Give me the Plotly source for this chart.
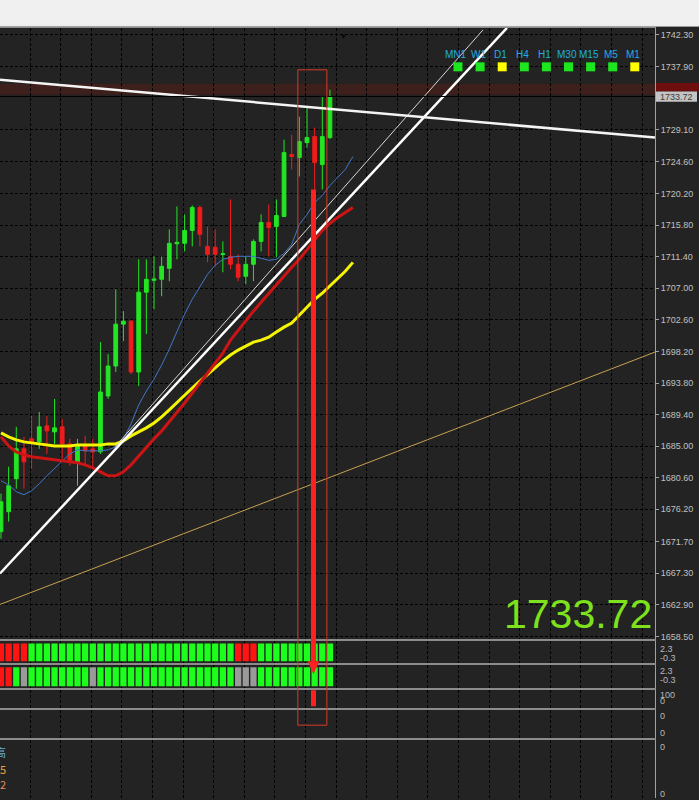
import plotly.graph_objects as go

W, H = 699, 800
AXIS_PX = 655  # left edge of the price scale, in pixels

# ---- candles (bar index 0..43) ----
opens = [1673.09, 1675.87, 1680.46, 1684.63, 1686.02, 1685.60, 1687.83, 1686.99, 1687.69, 1685.32,
         1682.82, 1685.05, 1684.63, 1684.21, 1691.99, 1696.17, 1702.00, 1702.42, 1695.33, 1706.45,
         1708.10, 1708.25, 1709.78, 1713.20, 1713.26, 1715.06, 1718.26, 1712.84, 1712.70, 1711.70,
         1711.45, 1710.34, 1708.67, 1710.34, 1713.53, 1716.17, 1715.62, 1717.01, 1725.62, 1725.21,
         1727.29, 1728.13, 1724.23, 1727.99]
highs = [1678.40, 1682.13, 1687.69, 1686.30, 1689.21, 1689.77, 1689.21, 1691.58, 1688.80, 1686.02,
         1686.02, 1686.44, 1686.02, 1699.50, 1697.83, 1706.86, 1703.81, 1702.60, 1711.03, 1711.03,
         1711.45, 1711.45, 1715.20, 1718.40, 1717.29, 1718.54, 1718.54, 1715.62, 1715.20, 1713.53,
         1719.37, 1711.73, 1711.45, 1713.81, 1717.29, 1718.68, 1719.37, 1727.71, 1728.40, 1730.90,
         1732.16, 1729.38, 1733.68, 1734.66]
lows = [1672.10, 1674.48, 1679.07, 1679.07, 1681.85, 1684.63, 1683.93, 1685.32, 1683.24, 1682.27,
        1679.49, 1682.27, 1681.85, 1683.93, 1691.58, 1695.33, 1699.64, 1695.05, 1693.38, 1700.61,
        1704.08, 1705.89, 1707.98, 1711.03, 1712.14, 1712.84, 1712.84, 1710.62, 1710.06, 1709.23,
        1709.64, 1707.98, 1707.56, 1707.98, 1712.14, 1711.45, 1711.31, 1716.90, 1723.54, 1722.57,
        1726.60, 1720.76, 1720.76, 1727.80]
closes = [1677.26, 1679.49, 1684.63, 1682.82, 1685.60, 1687.69, 1687.13, 1687.55, 1685.32, 1682.82,
          1685.05, 1684.35, 1684.21, 1692.55, 1696.17, 1702.00, 1702.42, 1695.33, 1706.45, 1708.25,
          1708.30, 1710.06, 1713.26, 1713.40, 1715.06, 1718.26, 1714.51, 1711.73, 1711.73, 1711.80,
          1710.34, 1708.53, 1710.34, 1713.53, 1716.17, 1715.48, 1717.15, 1725.90, 1725.35, 1727.43,
          1727.99, 1724.51, 1728.13, 1733.72]

# moving averages (shifted 3 bars forward, index 0..46)
ma_yellow = [1686.85, 1686.30, 1685.88, 1685.60, 1685.46, 1685.32, 1685.18, 1685.04, 1685.04, 1685.04,
             1685.18, 1685.18, 1685.18, 1685.18, 1685.32, 1685.32, 1685.74, 1686.43, 1686.99, 1687.55,
             1688.24, 1689.07, 1690.05, 1691.02, 1692.13, 1693.10, 1694.08, 1695.05, 1696.02, 1696.86,
             1697.69, 1698.39, 1698.94, 1699.50, 1699.77, 1700.19, 1700.89, 1701.58, 1702.14, 1703.25,
             1704.36, 1705.47, 1706.31, 1707.28, 1708.25, 1709.36, 1710.61]
ma_red = [1686.30, 1685.04, 1684.21, 1683.79, 1683.52, 1683.38, 1683.24, 1683.10, 1682.96, 1682.82,
          1682.68, 1682.40, 1681.99, 1681.43, 1680.88, 1680.88, 1681.43, 1682.40, 1683.65, 1684.91,
          1686.02, 1687.13, 1688.38, 1689.63, 1691.02, 1692.41, 1693.80, 1695.19, 1696.58, 1697.97,
          1699.77, 1701.16, 1702.55, 1703.81, 1705.06, 1706.31, 1707.56, 1708.67, 1709.92, 1711.03,
          1712.42, 1713.81, 1715.06, 1716.03, 1716.87, 1717.56, 1718.26]
ma_blue = [1680.18, 1679.62, 1678.65, 1678.24, 1678.79, 1679.76, 1680.88, 1681.85, 1682.96, 1683.93,
           1684.49, 1684.35, 1684.35, 1684.35, 1684.49, 1684.91, 1686.02, 1688.10, 1690.74, 1692.69,
           1694.36, 1696.30, 1698.52, 1700.89, 1703.39, 1705.47, 1707.28, 1708.95, 1710.20, 1711.03,
           1711.31, 1711.45, 1711.45, 1711.45, 1711.17, 1710.89, 1711.03, 1711.87, 1713.12, 1715.90,
           1717.29, 1718.95, 1719.93, 1721.32, 1722.43, 1723.54, 1725.35]

# trendlines: (bar indexes, prices)
tl_down_x, tl_down_y = [-0.13, 85.49], [1736.05, 1727.99]
tl_up_x, tl_up_y = [-0.13, 66.14], [1667.26, 1743.27]
tl_thin_x, tl_thin_y = [14.9, 63.0], [1684.91, 1742.99]
tl_orange_x, tl_orange_y = [-0.13, 85.49], [1662.95, 1698.11]

price_ticks = [1742.30, 1737.90, 1729.10, 1724.60, 1720.20, 1715.80, 1711.40, 1707.00, 1702.60,
               1698.20, 1693.80, 1689.40, 1685.00, 1680.60, 1676.20, 1671.70, 1667.30, 1662.90, 1658.50]
last_price = 1733.72
zone_lo, zone_hi = 1733.96, 1735.49

# indicator strips: g = green, r = red, x = grey
strip1 = "rrrr" + "g" * 27 + "rrr" + "g" * 10
strip2 = "rrgx" + "g" * 8 + "x" + "g" * 18 + "xxx" + "g" * 10

timeframes = ["MN1", "W1", "D1", "H4", "H1", "M30", "M15", "M5", "M1"]
tf_state = ["g", "g", "y", "g", "g", "g", "g", "g", "y"]

# ---- styling ----
BG = "#232323"
GRID = dict(showgrid=True, gridcolor="#000000", griddash="3px,2px", gridwidth=1)
FRAME = "#8c8c8c"
STRIP_COL = {"g": "#1cff1c", "r": "#ff1414", "x": "#9a9a9a"}
TF_COL = {"g": "#1ee61e", "y": "#ffff00"}
X_RANGE = [-0.13, 85.49]


def py(px):
    return 1 - px / H


def px_x(px):
    return px / W


fig = go.Figure()

fig.add_trace(go.Candlestick(
    x=list(range(len(opens))), open=opens, high=highs, low=lows, close=closes,
    increasing=dict(line=dict(color="#22e622", width=1), fillcolor="#22e622"),
    decreasing=dict(line=dict(color="#f01c1c", width=1), fillcolor="#f01c1c"),
    showlegend=False, hoverinfo="skip",
))

for vals, col, w in [(ma_blue, "#3f78c8", 1), (ma_yellow, "#f5f500", 3), (ma_red, "#cc1414", 3)]:
    fig.add_trace(go.Scatter(x=list(range(len(vals))), y=vals, mode="lines",
                             line=dict(color=col, width=w), showlegend=False, hoverinfo="skip"))

fig.add_trace(go.Scatter(x=tl_orange_x, y=tl_orange_y, mode="lines",
                         line=dict(color="#c8a050", width=1), showlegend=False, hoverinfo="skip"))
fig.add_trace(go.Scatter(x=tl_thin_x, y=tl_thin_y, mode="lines",
                         line=dict(color="#d8d8d8", width=1), showlegend=False, hoverinfo="skip"))
fig.add_trace(go.Scatter(x=tl_up_x, y=tl_up_y, mode="lines",
                         line=dict(color="#ffffff", width=2.5), showlegend=False, hoverinfo="skip"))
fig.add_trace(go.Scatter(x=tl_down_x, y=tl_down_y, mode="lines",
                         line=dict(color="#f4f4f4", width=2.5), showlegend=False, hoverinfo="skip"))

# strips in sub panes 1 and 2
for k, strip in [(2, strip1), (3, strip2)]:
    fig.add_trace(go.Bar(x=list(range(len(strip))), y=[1] * len(strip), width=0.82,
                         marker=dict(color=[STRIP_COL[s] for s in strip], line=dict(width=0)),
                         xaxis=f"x{k}", yaxis=f"y{k}", showlegend=False, hoverinfo="skip"))
# empty panes still need a trace so their frame and grid get drawn
for k in (4, 5, 6):
    fig.add_trace(go.Scatter(x=[None], y=[None], mode="lines", xaxis=f"x{k}", yaxis=f"y{k}",
                             showlegend=False, hoverinfo="skip"))

# pane layout in pixels (top, bottom)
panes = [(28, 641), (643, 665), (667, 690), (692, 710), (712, 740), (742, 800)]

layout = dict(
    width=W, height=H, margin=dict(l=0, r=0, t=0, b=0),
    paper_bgcolor=BG, plot_bgcolor=BG, showlegend=False,
    font=dict(family="Liberation Sans", size=9, color="#c0c0c0"),
)
for n, (top, bot) in enumerate(panes, start=1):
    sx = "" if n == 1 else str(n)
    xa = dict(domain=[0, px_x(AXIS_PX)], range=X_RANGE, anchor=f"y{sx}",
              tickmode="linear", tick0=3.8, dtick=4, showticklabels=False, ticks="",
              showline=True, linecolor=FRAME, linewidth=2, mirror=(n < 6),
              zeroline=False, **GRID)
    if n == 1:
        xa["rangeslider"] = dict(visible=False)
    else:
        xa["matches"] = "x"
    if n == 6:
        xa["side"] = "top"
    ya = dict(domain=[py(bot), py(top)], anchor=f"x{sx}", side="right", zeroline=False,
              showline=True, linecolor="#a0a0a0", linewidth=1, fixedrange=True)
    if n == 1:
        ya.update(range=[1658.08, 1743.27], tickmode="array", tickvals=price_ticks,
                  ticktext=[f"{v:.2f}" for v in price_ticks], ticks="outside", ticklen=3,
                  tickcolor="#a0a0a0", tickfont=dict(size=9, color="#c0c0c0"), **GRID)
    else:
        pad = 2 / (bot - top - 4)
        ya.update(range=[-pad, 1 + pad], showticklabels=False, showgrid=False, ticks="")
    layout[f"xaxis{sx}"] = xa
    layout[f"yaxis{sx}"] = ya

fig.update_layout(**layout)

shapes = []
# top light band of the terminal window
shapes.append(dict(type="rect", xref="paper", yref="paper", x0=0, x1=1, y0=py(26), y1=1,
                   fillcolor="#f0f0f0", line=dict(width=0)))
shapes.append(dict(type="line", xref="paper", yref="paper", x0=0, x1=1, y0=py(26.5), y1=py(26.5),
                   line=dict(color="#a8a8a8", width=1)))
# dark red zone and price line
shapes.append(dict(type="rect", xref="x", yref="y", x0=X_RANGE[0], x1=X_RANGE[1], y0=zone_lo, y1=zone_hi,
                   fillcolor="#3d1f1b", line=dict(width=0), layer="below"))
shapes.append(dict(type="rect", xref="paper", yref="y", x0=px_x(AXIS_PX + 1), x1=1, y0=1734.40, y1=1735.60,
                   fillcolor="#6e0e0e", line=dict(width=0)))
shapes.append(dict(type="line", xref="x", yref="y", x0=X_RANGE[0], x1=X_RANGE[1], y0=last_price, y1=last_price,
                   line=dict(color="#000000", width=1)))
shapes.append(dict(type="rect", xref="paper", yref="y", x0=px_x(AXIS_PX + 1), x1=px_x(697),
                   y0=last_price - 0.72, y1=last_price + 0.70, fillcolor="#c4c4c4", line=dict(width=0)))
# red frame round the last bars
shapes.append(dict(type="rect", xref="x", yref="paper", x0=38.8, x1=42.6, y0=py(727), y1=py(70),
                   line=dict(color="#d83a2a", width=1)))
# red signal arrow
bx = 40.85
shapes.append(dict(type="rect", xref="x", yref="paper", x0=bx - 0.33, x1=bx + 0.33, y0=py(663), y1=py(190),
                   fillcolor="#ff2020", line=dict(width=0)))
shapes.append(dict(type="path", xref="x", yref="paper",
                   path=f"M {bx - 0.75},{py(663)} L {bx + 0.75},{py(663)} L {bx},{py(676)} Z",
                   fillcolor="#ff2020", line=dict(width=0)))
shapes.append(dict(type="rect", xref="x", yref="paper", x0=bx - 0.33, x1=bx + 0.33, y0=py(708), y1=py(692),
                   fillcolor="#ff2020", line=dict(width=0)))
# timeframe squares
for k, st in enumerate(tf_state):
    cx = 458 + 22.1 * k
    shapes.append(dict(type="rect", xref="paper", yref="paper", x0=px_x(cx - 4.5), x1=px_x(cx + 4.5),
                       y0=py(71.5), y1=py(62.5), fillcolor=TF_COL[st], line=dict(width=0)))
fig.update_layout(shapes=shapes)

ann = []
ann.append(dict(x=px_x(AXIS_PX + 3), y=py(97), xref="paper", yref="paper", text=f"{last_price:.2f}",
                showarrow=False, xanchor="left", yanchor="middle", font=dict(size=9, color="#3a3a3a")))
ann.append(dict(x=px_x(654), y=py(616), xref="paper", yref="paper", text=f"{last_price:.2f}",
                showarrow=False, xanchor="right", yanchor="middle",
                font=dict(size=41, color="#7ee11e", family="Liberation Sans")))
ann.append(dict(x=px_x(343), y=py(31), xref="paper", yref="paper", text="▼", showarrow=False,
                font=dict(size=7, color="#050505")))
for k, tf in enumerate(timeframes):
    ann.append(dict(x=px_x(456 + 22.1 * k), y=py(55), xref="paper", yref="paper", text=tf,
                    showarrow=False, xanchor="center", yanchor="middle",
                    font=dict(size=10, color="#22aee0")))
# sub pane scale values
sub_labels = [("2.3", 651), ("-0.3", 660), ("2.3", 673), ("-0.3", 682), ("100", 697), ("0", 703),
              ("0", 718), ("0", 735), ("0", 749), ("0", 796)]
for txt, y in sub_labels:
    ann.append(dict(x=px_x(AXIS_PX + 3), y=py(y), xref="paper", yref="paper", text=txt, showarrow=False,
                    xanchor="left", yanchor="middle", font=dict(size=9, color="#b8b8b8")))
# cut-off legend text at bottom left
for txt, y, col in [("高", 754, "#6aaccc"), ("5", 771, "#eba33c"), ("2", 786, "#e8885a")]:
    ann.append(dict(x=px_x(8), y=py(y), xref="paper", yref="paper", text=txt, showarrow=False,
                    xanchor="right", yanchor="middle",
                    font=dict(size=11, color=col, family="Noto Sans CJK SC")))
fig.update_layout(annotations=ann)

fig.write_html("out.html", config={"displayModeBar": False},
               post_script="document.body.style.margin='0';")
